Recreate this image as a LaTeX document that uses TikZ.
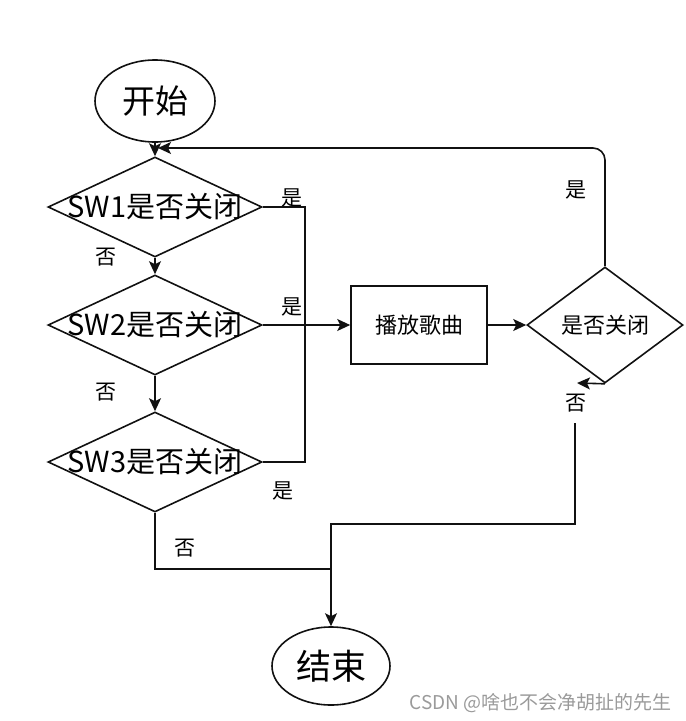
\documentclass[tikz,border=0pt]{standalone}
\usepackage{fontspec}
\setmainfont{Noto Sans CJK SC}
\usetikzlibrary{arrows.meta,positioning,shapes.geometric}
\definecolor{fcink}{HTML}{111111}
\definecolor{fcmark}{HTML}{9A9A9A}

\begin{document}
\begin{tikzpicture}[x=1pt,y=-1pt,
  term/.style={ellipse,draw=fcink,line width=1.6pt,inner sep=0pt,
               minimum width=120pt,minimum height=82pt,font=\fontsize{33}{36}\selectfont},
  decide/.style={diamond,draw=fcink,line width=1.6pt,inner sep=0pt,
                 minimum width=214pt,minimum height=100pt,font=\fontsize{29}{32}\selectfont},
  ask/.style={diamond,draw=fcink,line width=1.6pt,inner sep=0pt,
              minimum width=156pt,minimum height=116pt,font=\fontsize{22}{24}\selectfont},
  proc/.style={draw=fcink,line width=1.6pt,inner sep=0pt,
               minimum width=136pt,minimum height=78pt,font=\fontsize{22}{24}\selectfont},
  lab/.style={inner sep=0pt,font=\fontsize{21}{24}\selectfont},
  line/.style={line width=1.6pt,color=fcink},
  arr/.style={-{Stealth[length=13pt,width=12pt,inset=3pt]},line width=1.6pt,color=fcink}
]
\useasboundingbox (0,0) rectangle (686,721);
\node[term] (start) at (155,101) {开始};
\node[decide] (sw1) at (155,207) {\makebox[0pt]{SW1是否关闭}};
\node[decide] (sw2) at (155,325) {\makebox[0pt]{SW2是否关闭}};
\node[decide] (sw3) at (155,462) {\makebox[0pt]{SW3是否关闭}};
\node[proc] (play) at (419,325) {播放歌曲};
\node[ask] (off) at (605,325) {\makebox[0pt]{是否关闭}};
\node[term,minimum width=118pt,minimum height=78pt,font=\fontsize{35}{38}\selectfont] (end) at (331,666) {结束};
% main chain
\draw[arr] (start) -- (sw1);
\draw[arr] (sw1) -- (sw2);
\draw[arr] (sw2) -- (sw3);
% yes branches
\coordinate (yesRoute) at (305,207);
\draw[line] (sw1.east) -- (yesRoute) |- (sw3.east);
\draw[arr] (sw2) -- (play);
\draw[arr] (play) -- (off);
\coordinate (loopIn) at (158,148);
\draw[arr,rounded corners=12pt] (off.north) |- (loopIn);
% no branches
\coordinate (noTip) at (577,383);
\draw[arr] (off.south) -- (noTip);
\coordinate (noStart) at (575,423);
\coordinate (noTurn) at (331,524);
\coordinate (merge) at (331,569);
\draw[line] (noStart) |- (noTurn) -- (merge);
\draw[line] (sw3.south) |- (merge);
\draw[arr] (merge) -- (end);
% labels
\node[lab] (y1) at (292,198) {是};
\node[lab] (n1) at (106,257) {否};
\node[lab] (y2) at (292,307) {是};
\node[lab] (n2) at (106,392) {否};
\node[lab] (y3) at (283,491) {是};
\node[lab] (n3) at (185,548) {否};
\node[lab] (y4) at (576,190) {是};
\node[lab] (n4) at (576,403) {否};
\node[anchor=east,inner sep=0pt,text=fcmark,font=\fontsize{19}{22}\selectfont] (mark) at (672,703) {CSDN @啥也不会净胡扯的先生};
\end{tikzpicture}
\end{document}
